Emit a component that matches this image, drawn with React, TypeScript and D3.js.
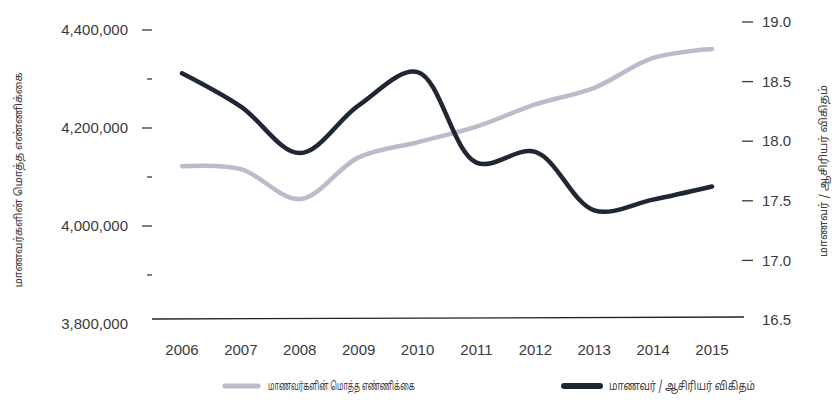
import React from "react";
import * as d3 from "d3";

const years: string[] = ["2006", "2007", "2008", "2009", "2010", "2011", "2012", "2013", "2014", "2015"];
const totalStudents: number[] = [4122000, 4116000, 4055000, 4140000, 4171000, 4203000, 4248000, 4282000, 4343000, 4361000];
const studentTeacherRatio: number[] = [18.57, 18.29, 17.9, 18.3, 18.58, 17.82, 17.91, 17.42, 17.51, 17.62];

const leftMajorTicks: number[] = [3800000, 4000000, 4200000, 4400000];
const leftMinorTicks: number[] = [3900000, 4100000, 4300000];
const rightTicks: number[] = [16.5, 17.0, 17.5, 18.0, 18.5, 19.0];

const seriesNames: string[] = ["மாணவர்களின் மொத்த எண்ணிக்கை", "மாணவர் / ஆசிரியர் விகிதம்"];
const leftTitle = "மாணவர்களின் மொத்த எண்ணிக்கை";
const rightTitle = "மாணவர் / ஆசிரியர் விகிதம்";

const W = 837;
const H = 404;
const GREY = "#b9bccb";
const DARK = "#1e2733";
const TEXT = "#3b3b3b";
const NUMFONT = "'Liberation Sans', Arial, sans-serif";
const TAMFONT = "'Noto Sans Tamil', 'Lohit Tamil', 'Noto Sans', sans-serif";

export default function App() {
  const x = d3.scalePoint<string>().domain(years).range([182, 712]);
  const yL = d3.scaleLinear().domain([3800000, 4400000]).range([324, 30]);
  const yR = d3.scaleLinear().domain([16.5, 19]).range([320, 22]);
  const fmt = d3.format(",");

  const curve = d3.curveCatmullRom.alpha(0.5);
  const lineL = d3
    .line<number>()
    .x((_, i) => x(years[i]) as number)
    .y((d) => yL(d))
    .curve(curve);
  const lineR = d3
    .line<number>()
    .x((_, i) => x(years[i]) as number)
    .y((d) => yR(d))
    .curve(curve);

  return (
    <svg
      width={W}
      height={H}
      style={{ position: "absolute", left: 0, top: 0, background: "#ffffff" }}
    >
      {/* left axis */}
      {leftMajorTicks.map((t) => (
        <g key={"lm" + t}>
          {t !== 3800000 && (
            <line x1={142} x2={152} y1={yL(t)} y2={yL(t)} stroke={TEXT} strokeWidth={1.3} />
          )}
          <text
            x={128}
            y={yL(t)}
            dy="0.35em"
            textAnchor="end"
            fontFamily={NUMFONT}
            fontSize={15}
            fill={TEXT}
          >
            {fmt(t)}
          </text>
        </g>
      ))}
      {leftMinorTicks.map((t) => (
        <line key={"ln" + t} x1={147} x2={152} y1={yL(t)} y2={yL(t)} stroke={TEXT} strokeWidth={1.3} />
      ))}

      {/* right axis */}
      {rightTicks.map((t) => (
        <g key={"r" + t}>
          {t !== 16.5 && (
            <line x1={742} x2={753} y1={yR(t)} y2={yR(t)} stroke={TEXT} strokeWidth={1.3} />
          )}
          <text
            x={762}
            y={yR(t)}
            dy="0.35em"
            textAnchor="start"
            fontFamily={NUMFONT}
            fontSize={15}
            fill={TEXT}
          >
            {t.toFixed(1)}
          </text>
        </g>
      ))}

      {/* baseline */}
      <line x1={152} x2={744} y1={319} y2={317} stroke="#222" strokeWidth={1.3} />

      {/* x labels */}
      {years.map((yr) => (
        <text
          key={yr}
          x={x(yr)}
          y={350}
          dy="0.35em"
          textAnchor="middle"
          fontFamily={NUMFONT}
          fontSize={15}
          fill={TEXT}
        >
          {yr}
        </text>
      ))}

      {/* lines */}
      <path
        d={lineL(totalStudents) || ""}
        fill="none"
        stroke={GREY}
        strokeWidth={4.5}
        strokeLinecap="round"
        strokeLinejoin="round"
      />
      <path
        d={lineR(studentTeacherRatio) || ""}
        fill="none"
        stroke={DARK}
        strokeWidth={4.5}
        strokeLinecap="round"
        strokeLinejoin="round"
      />

      {/* axis titles */}
      <text
        transform={`translate(18,180) rotate(-90)`}
        textAnchor="middle"
        dy="0.35em"
        fontFamily={TAMFONT}
        fontSize={11}
        fill={TEXT}
        textLength={215}
        lengthAdjust="spacingAndGlyphs"
      >
        {leftTitle}
      </text>
      <text
        transform={`translate(823,171) rotate(-90)`}
        textAnchor="middle"
        dy="0.35em"
        fontFamily={TAMFONT}
        fontSize={11}
        fill={TEXT}
        textLength={172}
        lengthAdjust="spacingAndGlyphs"
      >
        {rightTitle}
      </text>

      {/* legend */}
      <line x1={225} x2={258} y1={386} y2={386} stroke={GREY} strokeWidth={5} strokeLinecap="round" />
      <text
        x={268}
        y={386}
        dy="0.35em"
        fontFamily={TAMFONT}
        fontSize={12}
        fill={TEXT}
        textLength={147}
        lengthAdjust="spacingAndGlyphs"
      >
        {seriesNames[0]}
      </text>
      <line x1={564} x2={600} y1={386} y2={386} stroke={DARK} strokeWidth={6} strokeLinecap="round" />
      <text
        x={609}
        y={386}
        dy="0.35em"
        fontFamily={TAMFONT}
        fontSize={12}
        fill={TEXT}
        textLength={146}
        lengthAdjust="spacingAndGlyphs"
      >
        {seriesNames[1]}
      </text>
    </svg>
  );
}
